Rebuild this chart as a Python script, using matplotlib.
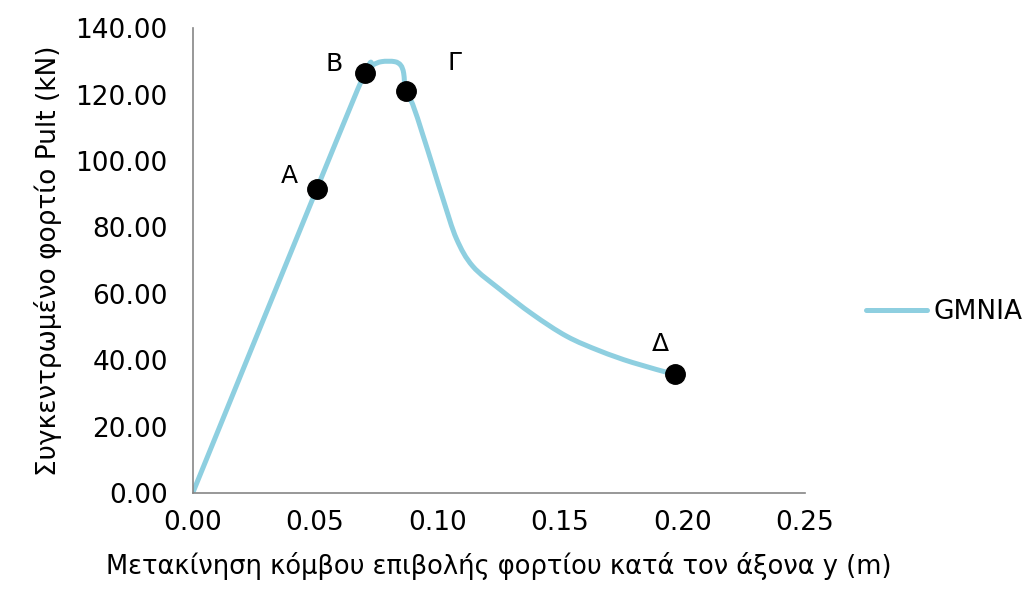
import matplotlib
matplotlib.use("Agg")
import matplotlib.pyplot as plt
from matplotlib.path import Path
from matplotlib.patches import PathPatch
from matplotlib.lines import Line2D

# GMNIA load-displacement curve
disp = [0.0, 0.0507, 0.0703, 0.0735, 0.0772, 0.0825, 0.0850, 0.0862, 0.0870,
        0.0899, 0.0940, 0.0980, 0.1025, 0.1078, 0.1144, 0.1254, 0.1389,
        0.1528, 0.1663, 0.1797, 0.1969]
load = [0.0, 91.6, 126.4, 128.8, 129.9, 129.9, 128.8, 126.4, 121.0,
        117.0, 107.9, 98.6, 88.0, 76.5, 68.3, 61.4, 53.8,
        47.2, 42.8, 39.3, 35.7]

# Characteristic points
pt_names = ["Α", "Β", "Γ", "Δ"]
pt_x = [0.0507, 0.0703, 0.0870, 0.1969]
pt_y = [91.6, 126.4, 121.0, 35.7]
pt_offsets = [(-20, 9), (-22, 7), (35, 20), (-10, 22)]

x_ticks = [0.00, 0.05, 0.10, 0.15, 0.20, 0.25]
y_ticks = [0, 20, 40, 60, 80, 100, 120, 140]

plt.rcParams['font.family'] = ['DejaVu Sans']

fig = plt.figure(figsize=(10.25, 5.93), dpi=100)
ax = fig.add_axes([0.188, 0.1686, 0.597, 0.784])

line_color = "#8ECFE0"


def smooth_path(xs, ys, tension=6.0):
    """Cubic Bezier path through the points (spreadsheet-style smoothed line)."""
    pts = list(zip(xs, ys))
    verts = [pts[0]]
    codes = [Path.MOVETO]
    n = len(pts)
    for i in range(n - 1):
        p0 = pts[i - 1] if i > 0 else pts[i]
        p1 = pts[i]
        p2 = pts[i + 1]
        p3 = pts[i + 2] if i + 2 < n else pts[i + 1]
        c1 = (p1[0] + (p2[0] - p0[0]) / tension, p1[1] + (p2[1] - p0[1]) / tension)
        c2 = (p2[0] - (p3[0] - p1[0]) / tension, p2[1] - (p3[1] - p1[1]) / tension)
        verts += [c1, c2, p2]
        codes += [Path.CURVE4] * 3
    return Path(verts, codes)


curve = PathPatch(smooth_path(disp, load), facecolor="none", edgecolor=line_color,
                  lw=3.6, capstyle="round", joinstyle="round", zorder=2)
ax.add_patch(curve)
ax.plot(pt_x, pt_y, "o", color="black", ms=14, zorder=3)
for name, x, y, (dx, dy) in zip(pt_names, pt_x, pt_y, pt_offsets):
    ax.annotate(name, (x, y), xytext=(dx, dy), textcoords="offset points",
                ha="center", va="center", fontsize=18)

ax.set_xlim(0, 0.25)
ax.set_ylim(0, 140)
ax.set_xticks(x_ticks)
ax.set_yticks(y_ticks)
ax.set_xticklabels([f"{v:.2f}" for v in x_ticks])
ax.set_yticklabels([f"{v:.2f}" for v in y_ticks])
ax.tick_params(length=0, labelsize=19, colors="black")
ax.tick_params(axis="x", pad=12)
ax.tick_params(axis="y", pad=18)
for side in ["top", "right"]:
    ax.spines[side].set_visible(False)
for side in ["left", "bottom"]:
    ax.spines[side].set_color("#868686")
    ax.spines[side].set_linewidth(1.2)

ax.set_xlabel("Μετακίνηση κόμβου επιβολής φορτίου κατά τον άξονα y (m)",
              fontsize=18.5, labelpad=12)
ax.set_ylabel("Συγκεντρωμένο φορτίο Pult (kN)", fontsize=19, labelpad=10)

handle = Line2D([], [], color=line_color, lw=3.6, solid_capstyle="round")
ax.legend([handle], ["GMNIA"], loc="center left", bbox_to_anchor=(1.101, 0.389),
          frameon=False, fontsize=19, handlelength=2.3, handletextpad=0.25,
          borderpad=0, borderaxespad=0)

fig.savefig("out.png", dpi=100)
